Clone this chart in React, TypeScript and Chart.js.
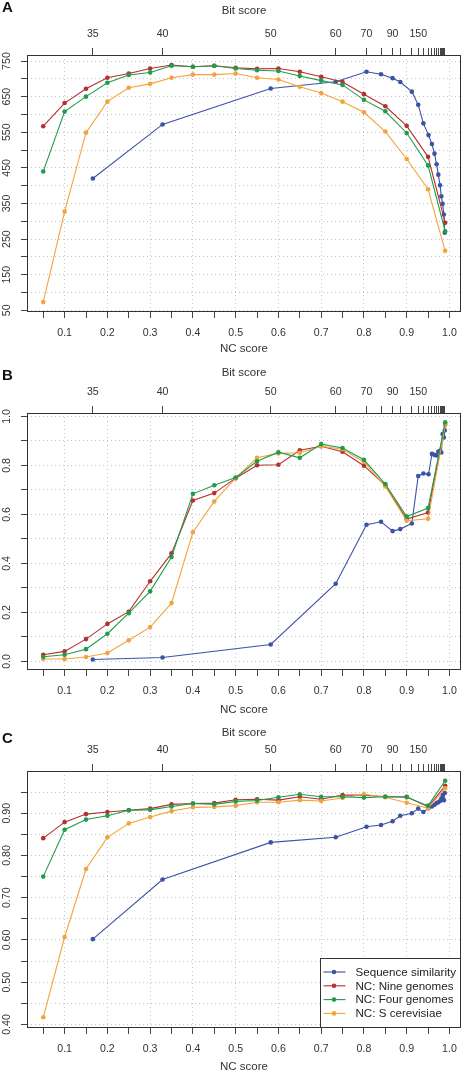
import React, { useEffect, useRef } from "react";
import { Chart, registerables } from "chart.js";

Chart.register(...registerables);

const FONT = "'Liberation Sans', Arial, Helvetica, sans-serif";
const TEXT = "#333333";
const TICK = "#444444";
const GRID = "#c4c4c4";

// ---------- shared axes ----------
const ncScores = [0.05, 0.1, 0.15, 0.2, 0.25, 0.3, 0.35, 0.4, 0.45, 0.5, 0.55, 0.6, 0.65, 0.7, 0.75, 0.8, 0.85, 0.9, 0.95, 0.99];
const ncTicks = [0.05, 0.1, 0.15, 0.2, 0.25, 0.3, 0.35, 0.4, 0.45, 0.5, 0.55, 0.6, 0.65, 0.7, 0.75, 0.8, 0.85, 0.9, 0.95, 1.0];
const ncTickLabels = ["", "0.1", "", "0.2", "", "0.3", "", "0.4", "", "0.5", "", "0.6", "", "0.7", "", "0.8", "", "0.9", "", "1.0"];

const bitScores = [35, 40, 50, 60, 70, 80, 90, 100, 125, 150, 175, 200, 250, 300, 350, 400, 500, 600, 700, 800, 1000];
const bitScoreNC = [0.166, 0.329, 0.582, 0.734, 0.806, 0.84, 0.867, 0.885, 0.912, 0.927, 0.939, 0.951, 0.959, 0.965, 0.97, 0.974, 0.978, 0.981, 0.984, 0.987, 0.989];
const bitScoreLabelled = [35, 40, 50, 60, 70, 90, 150];

const seriesNames = ["Sequence similarity", "NC: Nine genomes", "NC: Four genomes", "NC: S cerevisiae"];
const seriesColors = ["#3B53A4", "#B5302E", "#1F9D4C", "#F4A33C"];

// ---------- panel A ----------
const seqA = [420, 572, 673, 692, 720, 713, 702, 691, 664, 627, 575, 542, 517, 490, 460, 431, 401, 370, 349, 319, 268];
const nineA = [567, 632, 672, 703, 715, 729, 739, 734, 737, 731, 728, 729, 720, 706, 691, 657, 623, 568, 481, 296];
const fourA = [440, 608, 650, 689, 711, 718, 737, 734, 737, 729, 724, 722, 708, 695, 683, 641, 609, 548, 457, 272];
const scerA = [73, 327, 549, 636, 675, 686, 703, 712, 712, 715, 703, 698, 678, 660, 636, 606, 552, 475, 390, 217];
const yTicksA = [50, 100, 150, 200, 250, 300, 350, 400, 450, 500, 550, 600, 650, 700, 750];
const yLabelsA = ["50", "", "150", "", "250", "", "350", "", "450", "", "550", "", "650", "", "750"];

// ---------- panel B ----------
const seqB = [0.008, 0.016, 0.069, 0.317, 0.558, 0.57, 0.532, 0.54, 0.563, 0.757, 0.767, 0.764, 0.847, 0.843, 0.841, 0.857, 0.86, 0.853, 0.928, 0.914, 0.943];
const nineB = [0.027, 0.041, 0.091, 0.153, 0.203, 0.327, 0.441, 0.657, 0.687, 0.748, 0.801, 0.803, 0.862, 0.878, 0.856, 0.799, 0.719, 0.581, 0.608, 0.969];
const fourB = [0.019, 0.027, 0.05, 0.113, 0.197, 0.286, 0.426, 0.684, 0.719, 0.751, 0.817, 0.854, 0.831, 0.887, 0.871, 0.823, 0.724, 0.591, 0.626, 0.976];
const scerB = [0.01, 0.01, 0.018, 0.034, 0.086, 0.14, 0.238, 0.527, 0.653, 0.748, 0.831, 0.849, 0.852, 0.878, 0.866, 0.814, 0.714, 0.574, 0.582, 0.963];
const yTicksB = [0, 0.1, 0.2, 0.3, 0.4, 0.5, 0.6, 0.7, 0.8, 0.9, 1.0];
const yLabelsB = ["0.0", "", "0.2", "", "0.4", "", "0.6", "", "0.8", "", "1.0"];

// ---------- panel C ----------
const seqC = [0.602, 0.743, 0.831, 0.843, 0.868, 0.872, 0.881, 0.894, 0.9, 0.911, 0.903, 0.912, 0.916, 0.92, 0.924, 0.926, 0.929, 0.935, 0.943, 0.931, 0.948];
const nineC = [0.841, 0.879, 0.898, 0.903, 0.907, 0.911, 0.921, 0.923, 0.924, 0.932, 0.933, 0.931, 0.939, 0.933, 0.943, 0.943, 0.939, 0.939, 0.915, 0.965];
const fourC = [0.75, 0.861, 0.885, 0.894, 0.907, 0.908, 0.916, 0.923, 0.921, 0.928, 0.93, 0.938, 0.945, 0.939, 0.939, 0.937, 0.939, 0.938, 0.918, 0.977];
const scerC = [0.417, 0.607, 0.768, 0.843, 0.876, 0.891, 0.905, 0.914, 0.915, 0.918, 0.926, 0.926, 0.931, 0.929, 0.936, 0.945, 0.938, 0.925, 0.912, 0.959];
const yTicksC = [0.4, 0.45, 0.5, 0.55, 0.6, 0.65, 0.7, 0.75, 0.8, 0.85, 0.9, 0.95];
const yLabelsC = ["0.40", "", "0.50", "", "0.60", "", "0.70", "", "0.80", "", "0.90", ""];

type PanelProps = {
  letter: string;
  top: number;
  height: number;
  seq: number[];
  nine: number[];
  four: number[];
  scer: number[];
  yMin: number;
  yMax: number;
  yTicks: number[];
  yLabels: string[];
  yPad: number;
  titleTopPad: number;
  titleBottomPad: number;
  letterBase: number;
  legend: boolean;
};

const decorPlugin = {
  id: "decor",
  afterDraw(chart: any, _args: any, opts: any) {
    const { ctx, chartArea: ca } = chart;
    ctx.save();
    // plot box
    ctx.strokeStyle = "#333333";
    ctx.lineWidth = 1;
    const L = Math.round(ca.left) + 0.5;
    const T = Math.round(ca.top) + 0.5;
    const R = Math.round(ca.right) - 0.5;
    const B = Math.round(ca.bottom) + 0.5;
    ctx.strokeRect(L, T, R - L, B - T);
    // panel letter
    ctx.fillStyle = "#111111";
    ctx.font = `bold 15px ${FONT}`;
    ctx.textAlign = "left";
    ctx.textBaseline = "alphabetic";
    ctx.fillText(opts.letter, 2, opts.letterBase);
    // legend
    if (opts.legend) {
      const bx = Math.round(ca.right - 141) + 0.5;
      const by = Math.round(ca.bottom - 69) + 0.5;
      ctx.fillStyle = "#ffffff";
      ctx.fillRect(bx, by, R - bx, B - by);
      ctx.strokeStyle = "#333333";
      ctx.strokeRect(bx, by, R - bx, B - by);
      chart.data.datasets.forEach((ds: any, i: number) => {
        const y = by + 13.5 + i * 13.8;
        ctx.strokeStyle = ds.borderColor;
        ctx.lineWidth = 1.1;
        ctx.beginPath();
        ctx.moveTo(bx + 3, y);
        ctx.lineTo(bx + 25, y);
        ctx.stroke();
        ctx.fillStyle = ds.borderColor;
        ctx.beginPath();
        ctx.arc(bx + 13.5, y, 2.3, 0, Math.PI * 2);
        ctx.fill();
        ctx.fillStyle = "#222222";
        ctx.font = `11.6px ${FONT}`;
        ctx.textBaseline = "middle";
        ctx.fillText(ds.label, bx + 35, y + 0.5);
      });
    }
    ctx.restore();
  },
};

function Panel(p: PanelProps) {
  const ref = useRef<HTMLCanvasElement | null>(null);

  useEffect(() => {
    if (!ref.current) return;
    const xsList = [bitScoreNC, ncScores, ncScores, ncScores];
    const ysList = [p.seq, p.nine, p.four, p.scer];
    const drawOrder = [3, 2, 0, 1];
    const datasets = seriesNames.map((name, k) => ({
      label: name,
      data: xsList[k].map((x, i) => ({ x, y: ysList[k][i] })),
      borderColor: seriesColors[k],
      backgroundColor: seriesColors[k],
      pointBackgroundColor: seriesColors[k],
      borderWidth: 1.1,
      pointRadius: 2.3,
      pointBorderWidth: 0,
      tension: 0,
      order: drawOrder[k],
    }));

    const tickFont = { family: FONT, size: 10.6 };
    const titleFont = { family: FONT, size: 11.5 };
    const bottomH = p.height - 311;

    const chart = new Chart(ref.current, {
      type: "line",
      data: { datasets },
      plugins: [decorPlugin],
      options: {
        animation: false,
        responsive: false,
        devicePixelRatio: 1,
        events: [],
        layout: { padding: { left: 0, right: 1, top: 0, bottom: 0 } },
        plugins: {
          legend: { display: false },
          tooltip: { enabled: false },
          decor: { letter: p.letter, letterBase: p.letterBase, legend: p.legend },
        } as any,
        scales: {
          x: {
            type: "linear",
            position: "bottom",
            min: 0.012,
            max: 1.027,
            bounds: "data",
            afterBuildTicks: (s: any) => {
              s.ticks = ncTicks.map((v) => ({ value: v }));
            },
            afterFit: (s: any) => {
              s.height = bottomH;
              s.paddingLeft = 0;
              s.paddingRight = 0;
            },
            ticks: {
              autoSkip: false,
              maxRotation: 0,
              minRotation: 0,
              padding: 8.3,
              color: TEXT,
              font: tickFont,
              callback: (_v: any, i: number) => ncTickLabels[i],
            },
            grid: {
              drawOnChartArea: true,
              color: (ctx: any) => (ncTickLabels[ctx.index] ? GRID : "rgba(0,0,0,0)"),
              lineWidth: 1,
              tickLength: 7,
              tickColor: TICK,
              tickWidth: 1,
              tickBorderDash: [],
            },
            border: { display: false, dash: [1, 3] },
            title: {
              display: true,
              text: "NC score",
              color: TEXT,
              font: titleFont,
              padding: { top: 0, bottom: p.titleBottomPad },
            },
          },
          x2: {
            type: "linear",
            position: "top",
            min: 0.012,
            max: 1.027,
            bounds: "data",
            afterBuildTicks: (s: any) => {
              s.ticks = bitScoreNC.map((v) => ({ value: v }));
            },
            afterFit: (s: any) => {
              s.height = 55;
              s.paddingLeft = 0;
              s.paddingRight = 0;
            },
            ticks: {
              autoSkip: false,
              maxRotation: 0,
              minRotation: 0,
              padding: 7.3,
              color: TEXT,
              font: tickFont,
              callback: (_v: any, i: number) =>
                bitScoreLabelled.includes(bitScores[i]) ? String(bitScores[i]) : "",
            },
            grid: {
              drawOnChartArea: false,
              tickLength: 7,
              tickColor: TICK,
              tickWidth: 1,
              tickBorderDash: [],
            },
            border: { display: false },
            title: {
              display: true,
              text: "Bit score",
              color: TEXT,
              font: titleFont,
              padding: { top: p.titleTopPad, bottom: 0 },
            },
          },
          y: {
            type: "linear",
            position: "left",
            min: p.yMin,
            max: p.yMax,
            bounds: "data",
            afterBuildTicks: (s: any) => {
              s.ticks = p.yTicks.map((v) => ({ value: v }));
            },
            afterFit: (s: any) => {
              s.width = 27;
              s.paddingTop = 0;
              s.paddingBottom = 0;
            },
            ticks: {
              autoSkip: false,
              minRotation: 90,
              maxRotation: 90,
              crossAlign: "center",
              padding: p.yPad,
              color: TEXT,
              font: tickFont,
              callback: (_v: any, i: number) => p.yLabels[i],
            },
            grid: {
              drawOnChartArea: true,
              color: GRID,
              lineWidth: 1,
              tickLength: 6,
              tickColor: TICK,
              tickWidth: 1,
              tickBorderDash: [],
            },
            border: { display: false, dash: [1, 3] },
          },
        },
      } as any,
    });
    return () => chart.destroy();
  }, []);

  return (
    <canvas
      ref={ref}
      width={465}
      height={p.height}
      style={{ position: "absolute", left: 0, top: p.top, width: 465, height: p.height, display: "block" }}
    />
  );
}

export default function App() {
  return (
    <div style={{ position: "absolute", left: 0, top: 0, width: 465, height: 1072, background: "#ffffff", overflow: "hidden" }}>
      <Panel
        letter="A"
        top={0}
        height={358}
        seq={seqA}
        nine={nineA}
        four={fourA}
        scer={scerA}
        yMin={48}
        yMax={767}
        yTicks={yTicksA}
        yLabels={yLabelsA}
        yPad={5.5}
        titleTopPad={4.1}
        titleBottomPad={1.8}
        letterBase={11.7}
        legend={false}
      />
      <Panel
        letter="B"
        top={358}
        height={358}
        seq={seqB}
        nine={nineB}
        four={fourB}
        scer={scerB}
        yMin={-0.031}
        yMax={1.014}
        yTicks={yTicksB}
        yLabels={yLabelsB}
        yPad={6.9}
        titleTopPad={8.4}
        titleBottomPad={-0.9}
        letterBase={22}
        legend={false}
      />
      <Panel
        letter="C"
        top={716}
        height={356}
        seq={seqC}
        nine={nineC}
        four={fourC}
        scer={scerC}
        yMin={0.394}
        yMax={1.0}
        yTicks={yTicksC}
        yLabels={yLabelsC}
        yPad={4}
        titleTopPad={10.4}
        titleBottomPad={-2.2}
        letterBase={26.7}
        legend={true}
      />
    </div>
  );
}
